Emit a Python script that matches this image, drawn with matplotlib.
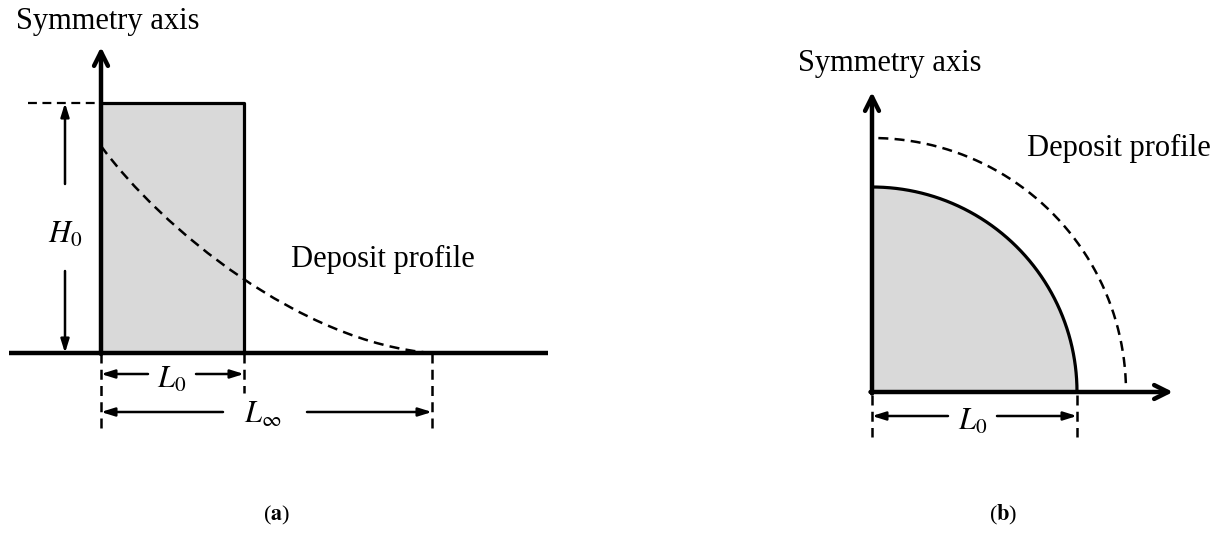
import matplotlib
matplotlib.use("Agg")
import matplotlib.pyplot as plt
from matplotlib.path import Path
from matplotlib.patches import PathPatch
import numpy as np

plt.rcParams['font.family'] = ['Liberation Serif', 'DejaVu Serif']
plt.rcParams['mathtext.fontset'] = 'stix'

# geometry, panel (a): units are pixels, origin where the axis meets the ground
rect_w = 143          # L0
rect_h = 250          # H0
l_inf = 331           # L_inf
# deposit profile as a cubic bezier: start, two control points, end
deposit_ctrl = [(0, 207), (60, 125), (200, 10), (331, 0)]

# geometry, panel (b)
r_column = 205        # radius of the initial column
r_deposit = 254       # radius of the deposit profile

line_c = 'black'
fill_c = '#d9d9d9'
dash = (0, (4, 2.5))
fs = 22

fig = plt.figure(figsize=(12.23, 5.36), dpi=100)
ax1 = fig.add_axes([0, 0, 600 / 1223, 1])
ax2 = fig.add_axes([600 / 1223, 0, 623 / 1223, 1])
ax1.set_xlim(-101, 499)
ax1.set_ylim(-183, 353)
ax2.set_xlim(-272, 351)
ax2.set_ylim(-144, 392)
for ax in (ax1, ax2):
    ax.axis('off')

axis_arrow = dict(arrowstyle='->,head_length=1.0,head_width=0.5', lw=3.2, color=line_c,
                  shrinkA=0, shrinkB=0)
dim_arrow = dict(arrowstyle='-|>,head_length=0.8,head_width=0.25', lw=1.8, color=line_c,
                 shrinkA=0, shrinkB=0)

# ---------------- panel (a) ----------------
ax1.fill([0, rect_w, rect_w, 0], [0, 0, rect_h, rect_h], color=fill_c, lw=0)
ax1.plot([0, rect_w, rect_w], [rect_h, rect_h, 0], color=line_c, lw=2.3)
ax1.plot([-92, 447], [0, 0], color=line_c, lw=3.2, solid_capstyle='butt')
ax1.annotate('', xy=(0, 306), xytext=(0, -1), arrowprops=axis_arrow)
ax1.plot([-73, 0], [rect_h, rect_h], color=line_c, lw=1.6, ls=dash)
curve = Path(deposit_ctrl, [Path.MOVETO, Path.CURVE4, Path.CURVE4, Path.CURVE4])
ax1.add_patch(PathPatch(curve, fill=False, edgecolor=line_c, lw=1.8, ls=dash))

# H0
ax1.annotate('', xy=(-36, rect_h), xytext=(-36, 169), arrowprops=dim_arrow)
ax1.annotate('', xy=(-36, 0), xytext=(-36, 82), arrowprops=dim_arrow)
ax1.text(-36, 118, '$H_0$', fontsize=fs, ha='center', va='center')

# dimension lines below the ground
for xv, depth in ((0, -79), (rect_w, -40), (l_inf, -79)):
    ax1.plot([xv, xv], [0, depth], color=line_c, lw=1.8, ls=dash)
ax1.annotate('', xy=(0, -21), xytext=(47, -21), arrowprops=dim_arrow)
ax1.annotate('', xy=(rect_w, -21), xytext=(95, -21), arrowprops=dim_arrow)
ax1.text(71, -27, '$L_0$', fontsize=fs, ha='center', va='center')
ax1.annotate('', xy=(0, -59), xytext=(122, -59), arrowprops=dim_arrow)
ax1.annotate('', xy=(l_inf, -59), xytext=(206, -59), arrowprops=dim_arrow)
ax1.text(162, -62, r'$L_\infty$', fontsize=fs, ha='center', va='center')

ax1.text(7, 331, 'Symmetry axis', fontsize=fs, ha='center', va='center')
ax1.text(190, 94, 'Deposit profile', fontsize=fs, ha='left', va='center')
ax1.text(176, -162, '($\\mathbf{a}$)', fontsize=16, ha='center', va='center')

# ---------------- panel (b) ----------------
t = np.linspace(0, np.pi / 2, 200)
ax2.fill(np.r_[0, r_column * np.cos(t)], np.r_[0, r_column * np.sin(t)], color=fill_c, lw=0)
ax2.plot(r_column * np.cos(t), r_column * np.sin(t), color=line_c, lw=2.3)
t2 = np.linspace(np.radians(2), np.pi / 2, 200)
ax2.plot(r_deposit * np.cos(t2), r_deposit * np.sin(t2), color=line_c, lw=1.8, ls=dash)
ax2.annotate('', xy=(0, 300), xytext=(0, -1.5), arrowprops=axis_arrow)
ax2.annotate('', xy=(301, 0), xytext=(-1.5, 0), arrowprops=axis_arrow)

for xv in (0, r_column):
    ax2.plot([xv, xv], [-3, -45], color=line_c, lw=1.8, ls=dash)
ax2.annotate('', xy=(0, -24), xytext=(76, -24), arrowprops=dim_arrow)
ax2.annotate('', xy=(r_column, -24), xytext=(125, -24), arrowprops=dim_arrow)
ax2.text(101, -30, '$L_0$', fontsize=fs, ha='center', va='center')

ax2.text(17.5, 329, 'Symmetry axis', fontsize=fs, ha='center', va='center')
ax2.text(155, 244, 'Deposit profile', fontsize=fs, ha='left', va='center')
ax2.text(131, -123, '($\\mathbf{b}$)', fontsize=16, ha='center', va='center')

fig.savefig('out.png', dpi=100)
